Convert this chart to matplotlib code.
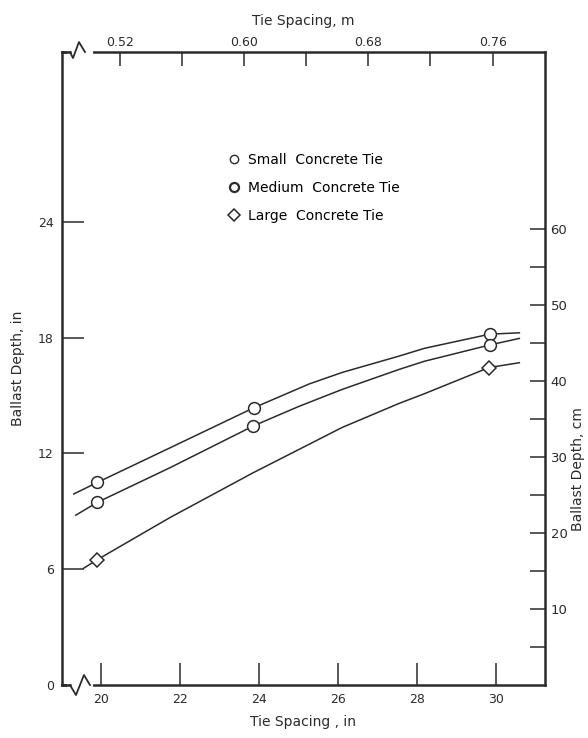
import matplotlib
matplotlib.use("Agg")
import matplotlib.pyplot as plt
from matplotlib.lines import Line2D

plt.rcParams["font.family"] = ["DejaVu Sans"]

INK = "#2b2b2b"

# curves (tie spacing in, ballast depth in)
small_curve_x = [19.3, 19.9, 21.75, 23.87, 25.27, 26.11, 27.56, 28.2, 29.85, 30.6]
small_curve_y = [9.9, 10.5, 12.3, 14.37, 15.6, 16.2, 17.05, 17.45, 18.18, 18.25]
medium_curve_x = [19.35, 19.9, 21.75, 23.85, 25.0, 26.11, 27.56, 28.2, 29.85, 30.6]
medium_curve_y = [8.8, 9.47, 11.27, 13.42, 14.43, 15.32, 16.36, 16.78, 17.62, 17.96]
large_curve_x = [19.55, 19.9, 21.75, 23.85, 26.11, 27.56, 28.2, 29.83, 30.6]
large_curve_y = [6.05, 6.5, 8.69, 11.0, 13.35, 14.6, 15.1, 16.45, 16.7]

# measured points
small_pts_x = [19.9, 23.87, 29.85]
small_pts_y = [10.5, 14.37, 18.18]
medium_pts_x = [19.9, 23.85, 29.85]
medium_pts_y = [9.47, 13.42, 17.62]
large_pts_x = [19.9, 29.83]
large_pts_y = [6.5, 16.45]

labels = ["Small  Concrete Tie", "Medium  Concrete Tie", "Large  Concrete Tie"]

bottom_ticks = [20, 22, 24, 26, 28, 30]
left_ticks = [0, 6, 12, 18, 24]
top_ticks = [0.52, 0.60, 0.68, 0.76]
top_minor = [0.56, 0.64, 0.72]
right_ticks = [10, 20, 30, 40, 50, 60]
right_minor = [5, 15, 25, 35, 45, 55]

fig = plt.figure(figsize=(5.88, 7.38), dpi=100)
ax = fig.add_axes([0.1054, 0.0718, 0.8214, 0.8577])
ax.set_xlim(19.0, 31.25)
ax.set_ylim(0, 32.8)

for cx, cy in [(small_curve_x, small_curve_y), (medium_curve_x, medium_curve_y),
               (large_curve_x, large_curve_y)]:
    ax.plot(cx, cy, color=INK, lw=1.1, zorder=2, solid_joinstyle="round")

ax.plot(small_pts_x, small_pts_y, ls="none", marker="o", ms=8.5, mfc="white",
        mec=INK, mew=1.1, zorder=3)
ax.plot(medium_pts_x, medium_pts_y, ls="none", marker="o", ms=8.5, mfc="white",
        mec=INK, mew=1.1, zorder=3)
ax.plot(large_pts_x, large_pts_y, ls="none", marker="D", ms=7.5, mfc="white",
        mec=INK, mew=1.1, zorder=3)

handles = [
    Line2D([], [], ls="none", marker="o", ms=6, mfc="white", mec=INK, mew=1.0),
    Line2D([], [], ls="none", marker="o", ms=6.5, mfc="white", mec=INK, mew=1.6),
    Line2D([], [], ls="none", marker="D", ms=6, mfc="white", mec=INK, mew=1.1),
]
ax.legend(handles, labels, loc="upper left", bbox_to_anchor=(0.33, 0.849),
          frameon=False, fontsize=10, handlelength=1.0, handletextpad=0.55,
          labelspacing=1.0, borderaxespad=0)

for s in ax.spines.values():
    s.set_linewidth(1.8)
    s.set_color(INK)

ax.set_xticks(bottom_ticks)
ax.set_yticks(left_ticks)
ax.tick_params(axis="x", direction="in", length=16, width=1.1, colors=INK,
               labelsize=9, pad=6, top=False)
ax.tick_params(axis="y", direction="in", length=16, width=1.1, colors=INK,
               labelsize=9, pad=6, right=False)
ax.set_xlabel("Tie Spacing , in", fontsize=10, color=INK, labelpad=6)
ax.set_ylabel("Ballast Depth, in", fontsize=10, color=INK, labelpad=9)

top = ax.secondary_xaxis("top", functions=(lambda v: v * 0.0254, lambda v: v / 0.0254))
top.set_xticks(top_ticks)
top.set_xticklabels([f"{t:.2f}" for t in top_ticks])
top.set_xticks(top_minor, minor=True)
top.tick_params(which="both", direction="in", length=10, width=1.1, colors=INK,
                labelsize=9, pad=2)
top.spines["top"].set_visible(False)
top.set_xlabel("Tie Spacing, m", fontsize=10, color=INK, labelpad=8)

right = ax.secondary_yaxis("right", functions=(lambda v: v * 2.54, lambda v: v / 2.54))
right.set_yticks(right_ticks)
right.set_yticks(right_minor, minor=True)
right.tick_params(which="both", direction="in", length=11, width=1.1, colors=INK,
                  labelsize=9.5, pad=4)
right.spines["right"].set_visible(False)
fig.text(0.983, 0.365, "Ballast Depth, cm", rotation=90, ha="center", va="center",
         fontsize=10, color=INK)

# axis break marks (pixel positions converted to axes fractions)
def px(x, y):
    return (x - 62) / 483.0, (685 - y) / 633.0

for y0, pts in [(685, [(70, 685), (76, 695), (84, 675), (90, 685)]),
                (52, [(70, 52), (73, 58), (79, 42), (85, 52)])]:
    a, b = px(69, y0)
    c, d = px(91, y0)
    ax.plot([a, c], [b, d], color="white", lw=3, transform=ax.transAxes,
            clip_on=False, zorder=5)
    xs, ys = zip(*[px(p, q) for p, q in pts])
    ax.plot([px(62, y0)[0], xs[0]], [ys[0], ys[0]], color=INK, lw=1.8,
            transform=ax.transAxes, clip_on=False, zorder=6)
    ax.plot(xs, ys, color=INK, lw=1.3, transform=ax.transAxes, clip_on=False, zorder=6)

fig.savefig("out.png", dpi=100)
